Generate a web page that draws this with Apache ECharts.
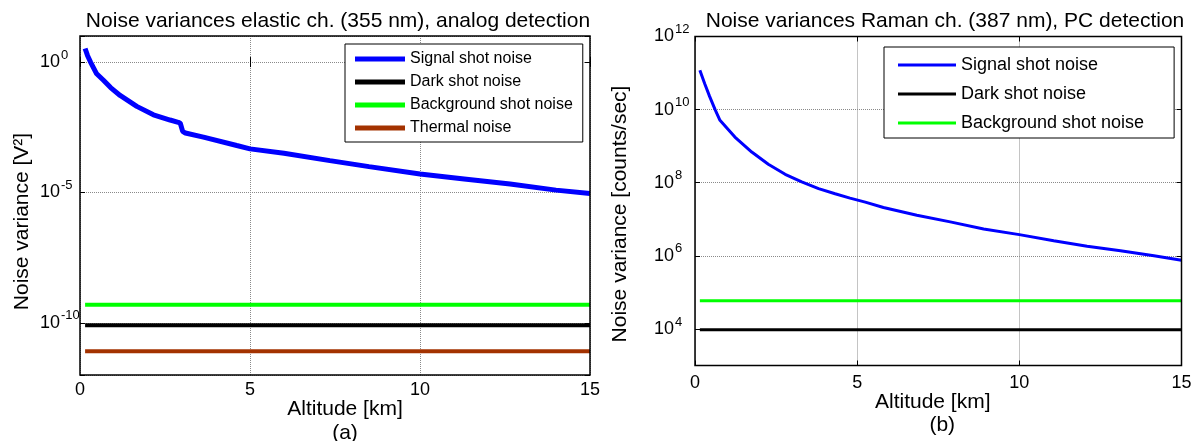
<!DOCTYPE html>
<html>
<head>
<meta charset="utf-8">
<script src="https://cdn.jsdelivr.net/npm/echarts@6/dist/echarts.min.js"></script>
<style>
  html, body { margin: 0; padding: 0; background: #fff; }
  #chart { width: 1198px; height: 441px; }
</style>
</head>
<body>
<div id="chart"></div>
<script>
const FONT = '"Liberation Sans", Arial, Helvetica, sans-serif';

// (a) Elastic channel, 355 nm, analog detection: altitude [km] vs noise variance [V^2]
const elasticAltitude = [0.15, 0.22, 0.31, 0.49, 0.69, 0.9, 1.18, 1.67, 2.16, 2.65, 2.89, 2.95, 3.02, 3.1, 3.63, 4.61, 5.0, 6.0, 7.35, 8.5, 10.0, 11.3, 12.65, 14.0, 15.0];
const elasticSignal = [3.3, 1.8, 1.0, 0.355, 0.2, 0.105, 0.0525, 0.02, 9.5e-3, 6.0e-3, 4.9e-3, 4.5e-3, 2.2e-3, 1.9e-3, 1.32e-3, 6.3e-4, 4.7e-4, 3.2e-4, 1.66e-4, 9.8e-5, 5.1e-5, 3.3e-5, 2.1e-5, 1.23e-5, 9.1e-6];
const elasticFlatAltitude = [0.15, 15];
const elasticDark = [8.1e-11, 8.1e-11];
const elasticBackground = [4.9e-10, 4.9e-10];
const elasticThermal = [8.1e-12, 8.1e-12];
const elasticExponents = [0, -5, -10];      // labelled decades
const elasticRange = [-12, 1];              // axis extent, in decades

// (b) Raman channel, 387 nm, photon counting: altitude [km] vs noise variance [counts/sec]
const ramanAltitude = [0.15, 0.3, 0.45, 0.62, 0.77, 1.23, 1.75, 2.26, 2.78, 3.29, 3.81, 4.32, 4.78, 5.25, 5.81, 6.84, 7.87, 8.9, 10.0, 11.06, 12.09, 13.12, 14.15, 15.0];
const ramanSignal = [1.2e11, 5.1e10, 2.3e10, 1.0e10, 5.1e9, 1.78e9, 6.9e8, 3.2e8, 1.7e8, 1.05e8, 6.9e7, 5.0e7, 3.8e7, 2.95e7, 2.1e7, 1.29e7, 8.5e6, 5.4e6, 3.8e6, 2.57e6, 1.82e6, 1.38e6, 1.0e6, 7.6e5];
const ramanFlatAltitude = [0.15, 15];
const ramanDark = [9.5e3, 9.5e3];
const ramanBackground = [5.9e4, 5.9e4];
const ramanExponents = [4, 6, 8, 10, 12];
const ramanRange = [3, 12];

const altitudeRange = [0, 15];
const altitudeStep = 5;

const SIGNAL = 'Signal shot noise';
const DARK = 'Dark shot noise';
const BACKGROUND = 'Background shot noise';
const THERMAL = 'Thermal noise';

const COLORS = { signal: '#0000ff', dark: '#000000', background: '#00ff00', thermal: '#a33200' };

const zip = (xs, ys) => xs.map((x, i) => [x, ys[i]]);

const gridLine = { show: true, lineStyle: { color: '#8a8a8a', type: 'dotted', width: 1 } };
const innerTick = { show: true, inside: true, length: 5, lineStyle: { color: '#000', width: 1 } };

// "10" followed by a raised exponent; the label starts a fixed distance left of the axis
function powerLabel(list, startGap) {
  return {
    fontFamily: FONT,
    color: '#000',
    align: 'left',
    margin: startGap,
    formatter: v => list.indexOf(Math.round(v)) >= 0 && Math.abs(v - Math.round(v)) < 1e-6
      ? '{b|10}{s|' + Math.round(v) + '}' : '',
    rich: {
      b: { fontSize: 18, fontFamily: FONT, color: '#000' },
      s: { fontSize: 13, fontFamily: FONT, color: '#000', padding: [0, 0, 14, 1] }
    }
  };
}

function bottomAxis(gridIndex, nameRich, labelMargin, nameGap) {
  return {
    type: 'value', gridIndex, position: 'bottom',
    min: altitudeRange[0], max: altitudeRange[1], interval: altitudeStep,
    axisLine: { show: false }, axisTick: innerTick, splitLine: gridLine,
    axisLabel: { fontSize: 18, fontFamily: FONT, color: '#000', margin: labelMargin },
    name: nameRich.text, nameLocation: 'middle', nameGap, nameMoveOverlap: false,
    nameTextStyle: { fontSize: 21, fontFamily: FONT, color: '#000', rich: nameRich.rich }
  };
}
function topAxis(gridIndex) {
  return {
    type: 'value', gridIndex, position: 'top',
    min: altitudeRange[0], max: altitudeRange[1], interval: altitudeStep,
    axisLine: { show: false }, axisTick: innerTick, axisLabel: { show: false }, splitLine: { show: false }
  };
}

const option = {
  animation: false,
  backgroundColor: '#fff',
  title: [
    { text: 'Noise variances elastic ch. (355 nm), analog detection', left: 333, top: 6, textAlign: 'center',
      textStyle: { fontSize: 21, fontWeight: 'normal', fontFamily: FONT, color: '#000' } },
    { text: 'Noise variances Raman ch. (387 nm), PC detection', left: 940, top: 6, textAlign: 'center',
      textStyle: { fontSize: 21, fontWeight: 'normal', fontFamily: FONT, color: '#000' } }
  ],
  grid: [
    { left: 80, top: 36, width: 510, height: 339, show: true, borderColor: '#000', borderWidth: 1.5,
      backgroundColor: 'transparent', z: 10, outerBoundsMode: 'none', containLabel: false },
    { left: 695, top: 36.5, width: 486.5, height: 329, show: true, borderColor: '#000', borderWidth: 1.5,
      backgroundColor: 'transparent', z: 10, outerBoundsMode: 'none', containLabel: false }
  ],
  legend: [
    {
      left: 345, top: 44, orient: 'vertical', icon: 'rect',
      itemWidth: 50, itemHeight: 5, itemGap: 7, padding: [7, 10, 6, 10],
      borderColor: '#000', borderWidth: 1, backgroundColor: '#fff',
      textStyle: { fontSize: 16, fontFamily: FONT, color: '#000' },
      data: [SIGNAL, DARK, BACKGROUND, THERMAL]
    },
    {
      left: 884, top: 47, orient: 'vertical', icon: 'rect',
      itemWidth: 58, itemHeight: 3, itemGap: 11, padding: [9, 30, 6, 14],
      borderColor: '#000', borderWidth: 1, backgroundColor: '#fff',
      textStyle: { fontSize: 18, fontFamily: FONT, color: '#000' },
      data: [SIGNAL, DARK, BACKGROUND]
    }
  ],
  xAxis: [
    bottomAxis(0, { text: '{n|Altitude [km]}\n{c|(a)}', rich: {
      n: { fontSize: 21, fontFamily: FONT, color: '#000', lineHeight: 24, padding: [0, 0, 0, 20] },
      c: { fontSize: 21, fontFamily: FONT, color: '#000', lineHeight: 24, padding: [0, 0, 0, 20] } } }, 6, 22),
    topAxis(0),
    bottomAxis(1, { text: '{n|Altitude [km]}\n{c|(b)}', rich: {
      n: { fontSize: 21, fontFamily: FONT, color: '#000', lineHeight: 23, padding: [0, 11, 0, 0] },
      c: { fontSize: 21, fontFamily: FONT, color: '#000', lineHeight: 23, padding: [0, 0, 0, 8] } } }, 9, 25),
    topAxis(1)
  ],
  yAxis: [
    // data scale, panel (a)
    { type: 'log', logBase: 10, gridIndex: 0, min: Math.pow(10, elasticRange[0]), max: Math.pow(10, elasticRange[1]), show: false },
    // decade labels and grid, panel (a)
    { type: 'value', gridIndex: 0, position: 'left', min: elasticRange[0], max: elasticRange[1], splitNumber: 3,
      axisLine: { show: false }, axisTick: innerTick, splitLine: gridLine,
      axisLabel: powerLabel(elasticExponents, 40),
      name: 'Noise variance [V²]', nameLocation: 'middle', nameGap: 47, nameRotate: 90, nameMoveOverlap: false,
      nameTextStyle: { fontSize: 21, fontFamily: FONT, color: '#000', padding: [0, 32, 0, 0] } },
    { type: 'value', gridIndex: 0, position: 'right', min: elasticRange[0], max: elasticRange[1], splitNumber: 3,
      axisLine: { show: false }, axisTick: innerTick, axisLabel: { show: false }, splitLine: { show: false } },
    // data scale, panel (b)
    { type: 'log', logBase: 10, gridIndex: 1, min: Math.pow(10, ramanRange[0]), max: Math.pow(10, ramanRange[1]), show: false },
    { type: 'value', gridIndex: 1, position: 'left', min: ramanRange[0], max: ramanRange[1], splitNumber: 4,
      axisLine: { show: false }, axisTick: innerTick, splitLine: gridLine,
      axisLabel: powerLabel(ramanExponents, 41),
      name: 'Noise variance [counts/sec]', nameLocation: 'middle', nameGap: 64, nameRotate: 90, nameMoveOverlap: false,
      nameTextStyle: { fontSize: 21, fontFamily: FONT, color: '#000', padding: [0, 26, 0, 0] } },
    { type: 'value', gridIndex: 1, position: 'right', min: ramanRange[0], max: ramanRange[1], splitNumber: 4,
      axisLine: { show: false }, axisTick: innerTick, axisLabel: { show: false }, splitLine: { show: false } }
  ],
  series: [
    { name: SIGNAL, type: 'line', xAxisIndex: 0, yAxisIndex: 0, showSymbol: false, symbol: 'none',
      color: COLORS.signal, lineStyle: { width: 5, color: COLORS.signal }, data: zip(elasticAltitude, elasticSignal) },
    { name: DARK, type: 'line', xAxisIndex: 0, yAxisIndex: 0, showSymbol: false, symbol: 'none',
      color: COLORS.dark, lineStyle: { width: 4, color: COLORS.dark }, data: zip(elasticFlatAltitude, elasticDark) },
    { name: BACKGROUND, type: 'line', xAxisIndex: 0, yAxisIndex: 0, showSymbol: false, symbol: 'none',
      color: COLORS.background, lineStyle: { width: 4, color: COLORS.background }, data: zip(elasticFlatAltitude, elasticBackground) },
    { name: THERMAL, type: 'line', xAxisIndex: 0, yAxisIndex: 0, showSymbol: false, symbol: 'none',
      color: COLORS.thermal, lineStyle: { width: 4, color: COLORS.thermal }, data: zip(elasticFlatAltitude, elasticThermal) },

    { name: SIGNAL, type: 'line', xAxisIndex: 2, yAxisIndex: 3, showSymbol: false, symbol: 'none',
      color: COLORS.signal, lineStyle: { width: 3, color: COLORS.signal }, data: zip(ramanAltitude, ramanSignal) },
    { name: DARK, type: 'line', xAxisIndex: 2, yAxisIndex: 3, showSymbol: false, symbol: 'none',
      color: COLORS.dark, lineStyle: { width: 3, color: COLORS.dark }, data: zip(ramanFlatAltitude, ramanDark) },
    { name: BACKGROUND, type: 'line', xAxisIndex: 2, yAxisIndex: 3, showSymbol: false, symbol: 'none',
      color: COLORS.background, lineStyle: { width: 3, color: COLORS.background }, data: zip(ramanFlatAltitude, ramanBackground) }
  ]
};

const chart = echarts.init(document.getElementById('chart'), null, { renderer: 'canvas' });
chart.setOption(option);
</script>
</body>
</html>
